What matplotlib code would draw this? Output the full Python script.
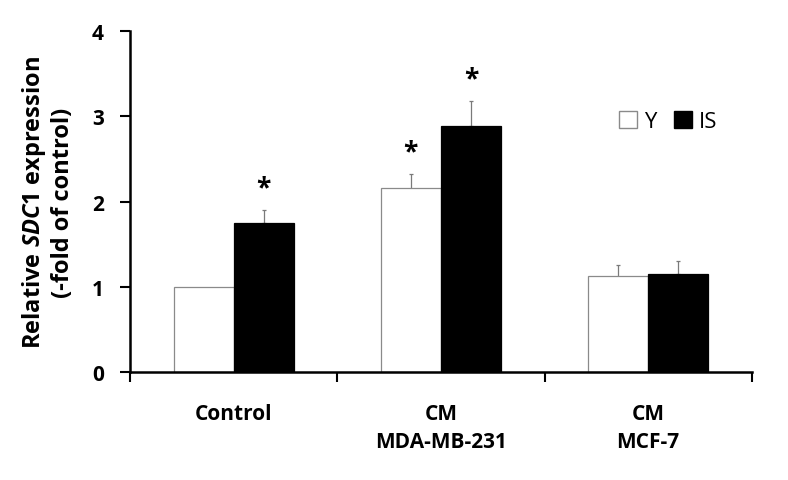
import matplotlib
matplotlib.use('Agg')
import matplotlib.pyplot as plt
import numpy as np
from matplotlib.patches import Patch

plt.rcParams['font.family'] = ['Open Sans', 'DejaVu Sans']
plt.rcParams['mathtext.fontset'] = 'custom'
plt.rcParams['mathtext.it'] = 'Open Sans:italic:bold'
plt.rcParams['mathtext.rm'] = 'Open Sans:bold'

# data
groups = ['Control', 'CM\nMDA-MB-231', 'CM\nMCF-7']
y_vals = [1.00, 2.16, 1.13]
y_err = [0.0, 0.165, 0.12]
is_vals = [1.75, 2.89, 1.15]
is_err = [0.15, 0.29, 0.15]
y_star = [False, True, False]
is_star = [True, True, False]

fig = plt.figure(figsize=(7.88, 4.81), dpi=100)
ax = fig.add_axes([0.165, 0.2245, 0.789, 0.709])

x = np.arange(len(groups))
w = 0.29

ax.bar(x - w / 2, y_vals, w, color='white', edgecolor='#8a8a8a', linewidth=0.9, zorder=2)
ax.bar(x + w / 2, is_vals, w, color='black', edgecolor='black', linewidth=0.9, zorder=2)

err_kw = dict(fmt='none', ecolor='#7a7a7a', elinewidth=0.9, capsize=1.5, capthick=0.9, zorder=1)
has_err = [i for i in range(len(groups)) if y_err[i] > 0]
ax.errorbar(x[has_err] - w / 2, [y_vals[i] for i in has_err],
            yerr=[y_err[i] for i in has_err], **err_kw)
ax.errorbar(x + w / 2, is_vals, yerr=[[0] * 3, is_err], **err_kw)

for i in range(len(groups)):
    if y_star[i]:
        ax.text(x[i] - w / 2, y_vals[i] + y_err[i] + 0.1, '*', ha='center', va='bottom',
                fontsize=19, fontweight='bold')
    if is_star[i]:
        ax.text(x[i] + w / 2, is_vals[i] + is_err[i] + 0.1, '*', ha='center', va='bottom',
                fontsize=19, fontweight='bold')

ax.set_xlim(-0.5, 2.5)
ax.set_ylim(0, 4)
ax.set_yticks([0, 1, 2, 3, 4])
ax.set_xticks(x)
ax.set_xticklabels(groups, fontsize=15, fontweight='bold', linespacing=1.45)
ax.set_xticks([-0.5, 0.5, 1.5, 2.5], minor=True)
ax.tick_params(axis='x', which='major', length=0, pad=22)
ax.tick_params(axis='x', which='minor', length=7, width=1.5, direction='out')
ax.tick_params(axis='y', length=7, width=1.5, direction='out', labelsize=15, pad=12)
for lab in ax.get_yticklabels():
    lab.set_fontweight('bold')

for s in ['top', 'right']:
    ax.spines[s].set_visible(False)
ax.spines['left'].set_linewidth(1.8)
ax.spines['bottom'].set_linewidth(1.8)

ax.set_ylabel('Relative $\\mathit{SDC1}$ expression\n(-fold of control)', fontsize=17,
              fontweight='bold', labelpad=12, linespacing=1.15)

handles = [Patch(facecolor='white', edgecolor='#8a8a8a', label='Y'),
           Patch(facecolor='black', edgecolor='black', label='IS')]
ax.legend(handles=handles, loc='upper left', bbox_to_anchor=(0.755, 0.825), ncol=2,
          frameon=False, fontsize=16, handlelength=0.8, handleheight=0.8,
          handletextpad=0.3, columnspacing=0.8)

fig.savefig('out.png', dpi=100)
